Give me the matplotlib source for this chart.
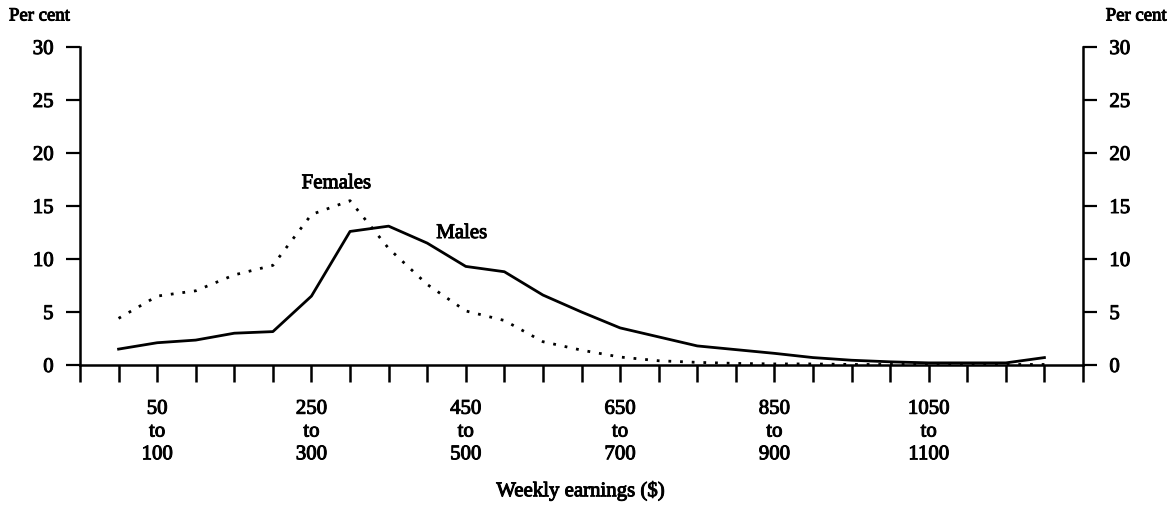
import matplotlib
matplotlib.use("Agg")
import matplotlib.pyplot as plt
import matplotlib.patheffects as pe
import numpy as np

# Earnings bins (index positions); labelled bins shown on axis
bin_labels = ["", "50\nto\n100", "", "", "", "250\nto\n300", "", "", "", "450\nto\n500",
              "", "", "", "650\nto\n700", "", "", "", "850\nto\n900", "", "", "",
              "1050\nto\n1100", "", "", ""]

males = [1.5, 2.1, 2.35, 3.0, 3.15, 6.5, 12.6, 13.1, 11.5, 9.3, 8.8, 6.6, 5.0,
         3.5, 2.65, 1.8, 1.45, 1.1, 0.7, 0.45, 0.3, 0.2, 0.2, 0.2, 0.7]
females = [4.4, 6.5, 7.0, 8.5, 9.4, 14.2, 15.5, 11.0, 7.6, 5.1, 4.2, 2.2, 1.4,
           0.75, 0.4, 0.25, 0.15, 0.1, 0.1, 0.05, 0.05, 0.05, 0.05, 0.05, 0.05]

yticks = [0, 5, 10, 15, 20, 25, 30]

plt.rcParams['font.family'] = ['Liberation Serif', 'DejaVu Serif']
FS = 15
thick = [pe.withStroke(linewidth=0.7, foreground='black')]

fig = plt.figure(figsize=(11.69, 5.10), dpi=100)
ax = fig.add_axes([80/1169, 1-366/510, (1083-80)/1169, (366-48)/510])

x = np.arange(len(males))
ax.plot(x, males, color='black', lw=2.0, solid_joinstyle='round')
ax.plot(x, females, color='black', lw=2.0, linestyle=(0, (1, 3.2)))

ax.set_xlim(-1, len(males))
ax.set_ylim(0, 30)

ax.spines['top'].set_visible(False)
for s in ['left', 'right', 'bottom']:
    ax.spines[s].set_linewidth(1.8)

ax.set_yticks(yticks)
ax.set_yticklabels([str(v) for v in yticks])
ax.tick_params(axis='y', which='both', direction='out', length=10, width=1.6,
               labelsize=FS, pad=9, left=True, right=True, labelleft=True, labelright=True)

xt = list(range(-1, len(males) + 1))
ax.set_xticks(xt)
ax.set_xticklabels([""] + bin_labels + [""], linespacing=1.27)
ax.tick_params(axis='x', direction='out', length=12, width=1.8, labelsize=FS, pad=13)

for lab in ax.get_yticklabels() + ax.get_xticklabels():
    lab.set_path_effects(thick)

t1 = fig.text(9/1169, 1-17/510, "Per cent", fontsize=13.5, ha='left', va='center')
t2 = fig.text(1167/1169, 1-17/510, "Per cent", fontsize=13.5, ha='right', va='center')

t3 = ax.text(5.65, 17.1, "Females", fontsize=FS, ha='center', va='center')
t4 = ax.text(8.9, 12.4, "Males", fontsize=FS, ha='center', va='center')

t5 = fig.text(581/1169, 1-492/510, "Weekly earnings ($)", fontsize=FS,
              ha='center', va='center')
for t in (t1, t2, t3, t4, t5):
    t.set_path_effects(thick)

fig.savefig("out.png", dpi=100)
